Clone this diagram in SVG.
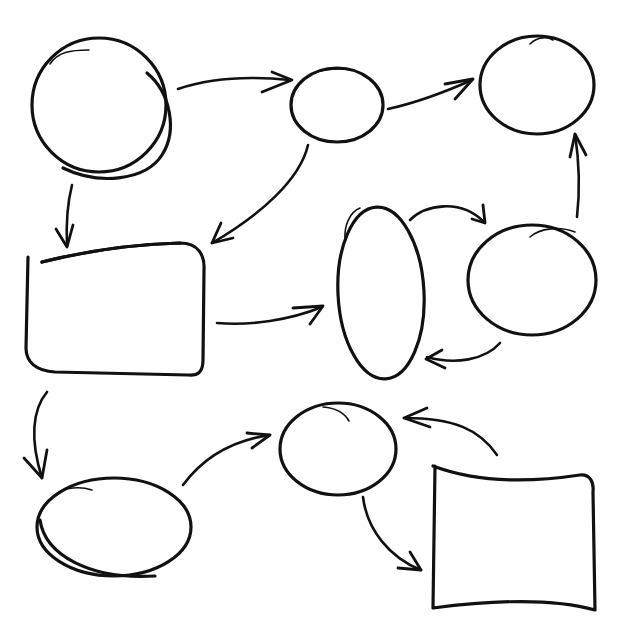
<svg xmlns="http://www.w3.org/2000/svg" width="626" height="626" viewBox="0 0 626 626">
<style>
.n{fill:none;stroke:#111;stroke-width:3.2;stroke-linecap:round;stroke-linejoin:round}
.t{fill:none;stroke:#111;stroke-width:1.6;stroke-linecap:round}
.c{fill:none;stroke:#111;stroke-width:2.6;stroke-linecap:round;stroke-linejoin:round}
.h{fill:none;stroke:#111;stroke-width:2.8;stroke-linecap:round;stroke-linejoin:round}
</style>
<rect width="626" height="626" fill="#fff"/>
<g id="node-big-circle">
<ellipse class="n" cx="99" cy="105" rx="67" ry="67"/>
<path class="n" d="M147 73 C170 92 178 130 162 155 C146 180 100 186 63 168"/>
<path class="t" d="M50 64 C58 52 70 50 89 50"/>
</g>
<g id="node-small-ellipse">
<ellipse class="n" cx="337" cy="105" rx="46" ry="37" stroke-width="2.6"/>
<path class="t" d="M315 73 C325 69 340 68 352 70"/>
</g>
<g id="node-top-right">
<ellipse class="n" cx="537" cy="85" rx="57" ry="49"/>
<path class="t" d="M530 44 C538 36 548 37 553 40"/>
</g>
<g id="node-rect">
<path class="n" d="M42 262 C90 250 140 244 180 243 C198 243 205 255 204 270 L203 360 C203 372 198 376 188 375 L55 372 C36 371 26 362 26 348 L28 257"/>
<path class="n" d="M42 262 C90 250 140 244 180 243" stroke-width="4.5"/>
</g>
<g id="node-tall-ellipse">
<ellipse class="n" cx="381" cy="293" rx="43" ry="86" transform="rotate(-3 381 293)"/>
<path class="t" d="M345 240 C344 225 350 212 360 208"/>
</g>
<g id="node-right-circle">
<ellipse class="n" cx="532" cy="280" rx="64" ry="55"/>
<path class="t" d="M530 237 C540 228 560 226 575 232"/>
</g>
<g id="node-bottom-ellipse">
<ellipse class="n" cx="114" cy="527" rx="77" ry="49"/>
<path class="n" d="M40 520 C45 555 90 580 155 576" stroke-width="2.4"/>
<path class="t" d="M55 495 C65 487 80 486 92 490"/>
</g>
<g id="node-bottom-circle">
<ellipse class="n" cx="338" cy="449" rx="58" ry="46" stroke-width="3.6"/>
<path class="t" d="M323 407 C337 408 345 414 349 421"/>
</g>
<g id="node-square">
<path class="n" d="M433 466 C470 480 520 484 580 475 C590 474 594 482 593 492 L595 610 C560 600 510 598 433 608 L435 466"/>
</g>
<g id="connectors">
<path class="c" d="M178 89 C210 78 250 76 290 80"/>
<path class="h" d="M272 72 L292 80 L262 92"/>
<path class="c" d="M72 185 C67 205 66 225 67 246"/>
<path class="h" d="M56 229 L67 247 L73 225"/>
<path class="c" d="M308 145 C300 180 260 215 212 243"/>
<path class="h" d="M221 223 L212 243 L233 238"/>
<path class="c" d="M388 109 C420 102 445 92 472 80"/>
<path class="h" d="M445 84 L473 79 L455 99"/>
<path class="c" d="M577 217 C580 190 579 160 575 134"/>
<path class="h" d="M570 157 L575 134 L586 155"/>
<path class="c" d="M410 220 C425 205 460 198 484 222"/>
<path class="h" d="M472 219 L485 223 L483 205"/>
<path class="c" d="M500 343 C485 360 455 365 427 357"/>
<path class="h" d="M442 350 L426 359 L445 368"/>
<path class="c" d="M217 323 C250 326 290 320 322 307"/>
<path class="h" d="M293 308 L323 306 L310 324"/>
<path class="c" d="M47 392 C32 410 30 440 42 478"/>
<path class="h" d="M24 458 L42 478 L47 450"/>
<path class="c" d="M183 485 C205 455 235 440 270 435"/>
<path class="h" d="M247 433 L270 435 L252 448"/>
<path class="c" d="M497 455 C480 430 455 418 404 418"/>
<path class="h" d="M427 408 L404 418 L430 427"/>
<path class="c" d="M363 497 C367 530 390 558 421 570"/>
<path class="h" d="M410 552 L421 570 L398 568"/>
</g>
</svg>
